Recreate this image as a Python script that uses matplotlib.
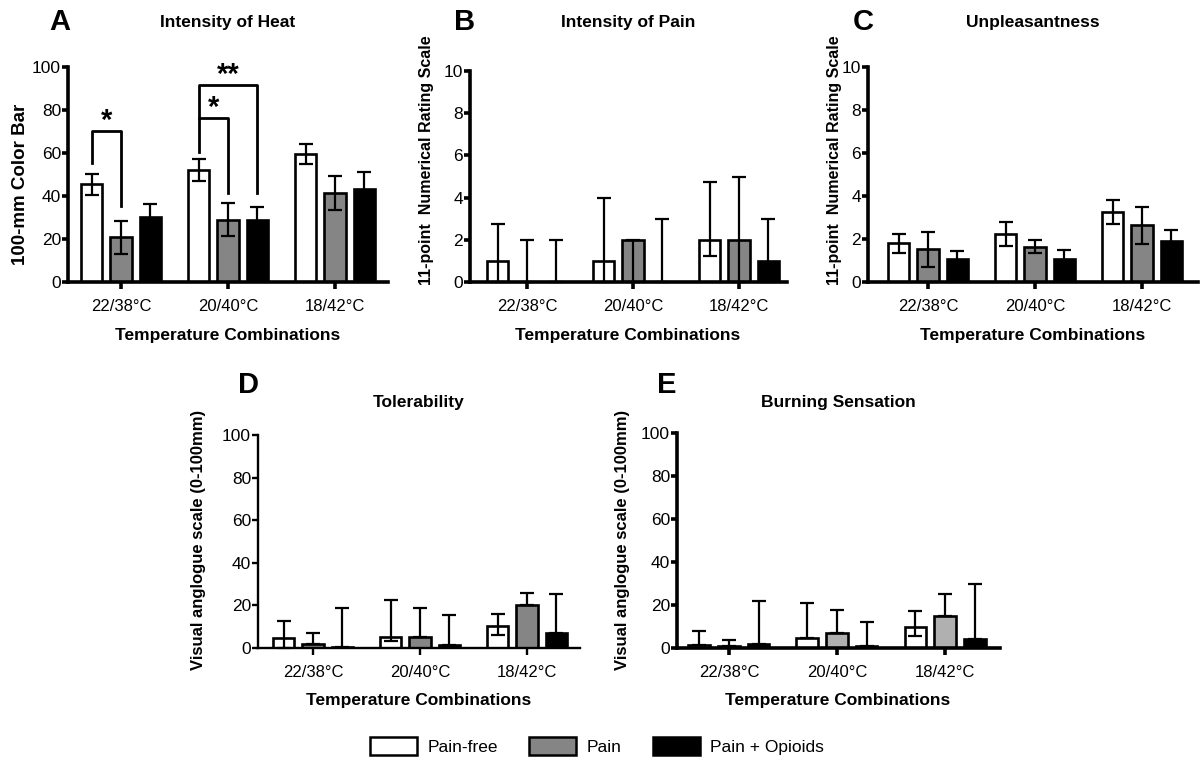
import matplotlib.pyplot as plt
from matplotlib.patches import Patch
import numpy as np

plt.rcParams['font.family'] = ['Liberation Sans', 'DejaVu Sans']

groups = ['22/38°C', '20/40°C', '18/42°C']
conditions = ['Pain-free', 'Pain', 'Pain + Opioids']

# rows: pain-free, pain, pain + opioids ; columns: temperature combinations
# A - intensity of heat (mean +/- sem)
heat_mean = [[45.5, 52.0, 59.7], [20.7, 28.9, 41.5], [30.2, 29.0, 43.4]]
heat_sem = [[4.9, 5.0, 4.6], [7.7, 7.7, 7.8], [6.2, 5.7, 7.8]]

# B - intensity of pain (median, lower, upper)
pain_med = [[1, 1, 2], [0, 2, 2], [0, 0, 1]]
pain_lo = [[0, 0, 1.25], [0, 0, 0], [0, 0, 0]]
pain_hi = [[2.75, 4, 4.75], [2, 2, 5], [2, 3, 3]]

# C - unpleasantness (mean +/- sem)
unpl_mean = [[1.8, 2.25, 3.26], [1.52, 1.64, 2.64], [1.09, 1.09, 1.89]]
unpl_sem = [[0.43, 0.56, 0.54], [0.8, 0.3, 0.87], [0.35, 0.4, 0.53]]

# D - tolerability (median, lower, upper)
tol_med = [[4.7, 5.2, 10.2], [2.0, 5.0, 20.0], [0.5, 1.6, 7.2]]
tol_lo = [[0, 3.1, 6.25], [2.0, 5.0, 20.0], [0.5, 1.6, 7.2]]
tol_hi = [[12.7, 22.7, 16.0], [7.0, 18.75, 26.0], [18.75, 15.3, 25.5]]

# E - burning sensation (median, lower, upper)
burn_med = [[1.4, 4.5, 9.8], [0.9, 7.0, 14.9], [1.9, 0.8, 4.0]]
burn_lo = [[1.4, 4.5, 5.4], [0.9, 7.0, 14.9], [1.9, 0.8, 4.0]]
burn_hi = [[8.0, 20.8, 17.0], [3.9, 17.8, 25.1], [22.0, 11.9, 29.9]]

W, H = 1201, 758
fig = plt.figure(figsize=(W / 100, H / 100), dpi=100)


def fx(px):
    return px / W


def fy(py):
    return 1 - py / H


def panel(box, xlim, vals, lo, hi, fills, ymax, ystep, sw=2.6):
    l, t, r, b = box
    ax = fig.add_axes([fx(l), fy(b), (r - l) / W, (b - t) / H])
    x = np.arange(len(groups))
    for i in range(3):
        xi = x + (i - 1) * 0.275
        v = np.array(vals[i], dtype=float)
        ax.bar(xi, v, 0.2, color=fills[i], edgecolor='black', linewidth=1.9, zorder=2)
        ax.errorbar(xi, v, yerr=[v - np.array(lo[i]), np.array(hi[i]) - v], fmt='none',
                    ecolor='black', elinewidth=1.6, capsize=5, capthick=1.6, zorder=3,
                    clip_on=False)
    ax.set_xlim(xlim)
    ax.set_ylim(0, ymax)
    ax.set_yticks(np.arange(0, ymax + 1e-9, ystep))
    ax.set_xticks(x)
    ax.set_xticklabels(groups)
    for s in ['top', 'right']:
        ax.spines[s].set_visible(False)
    for s in ['left', 'bottom']:
        ax.spines[s].set_linewidth(sw)
    ax.tick_params(axis='y', length=4, width=sw, pad=1, labelsize=12.5)
    ax.tick_params(axis='x', length=5, width=sw, pad=7, labelsize=12)
    return ax


fills = ['white', '#858585', 'black']
fills_e = ['white', '#b0b0b0', 'black']

heat_lo = np.array(heat_mean) - np.array(heat_sem)
heat_hi = np.array(heat_mean) + np.array(heat_sem)
unpl_lo = np.array(unpl_mean) - np.array(unpl_sem)
unpl_hi = np.array(unpl_mean) + np.array(unpl_sem)

axA = panel((68, 67, 388, 282), (-0.495, 2.495), heat_mean, heat_lo, heat_hi, fills, 100, 20)
axB = panel((470, 71, 787, 282), (-0.538, 2.453), pain_med, pain_lo, pain_hi, fills, 10, 2)
axC = panel((868, 67, 1198, 282), (-0.561, 2.523), unpl_mean, unpl_lo, unpl_hi, fills, 10, 2)
axD = panel((258, 435, 580, 648), (-0.514, 2.495), tol_med, tol_lo, tol_hi, fills, 100, 20, sw=1.7)
axE = panel((677, 433, 1000, 648), (-0.481, 2.509), burn_med, burn_lo, burn_hi, fills_e, 100, 20)

# significance brackets in A
off = 0.275
br = dict(color='black', lw=2, clip_on=False, zorder=4)
axA.plot([-off, -off, 0, 0], [55.2, 70.2, 70.2, 35.2], **br)
axA.text(-off / 2, 75, '*', ha='center', va='center', fontsize=21, fontweight='bold')
axA.plot([1 - off, 1 - off, 1, 1], [60.6, 76.4, 76.4, 41.4], **br)
axA.text(1 - off / 2, 81, '*', ha='center', va='center', fontsize=21, fontweight='bold')
axA.plot([1 - off, 1 - off, 1 + off, 1 + off], [76.4, 91.5, 91.5, 41.4], **br)
axA.text(1, 96.5, '**', ha='center', va='center', fontsize=21, fontweight='bold', clip_on=False)

# letters, titles, axis labels
letters = [('A', 60, 22), ('B', 465, 22), ('C', 863, 22), ('D', 248, 385), ('E', 667, 385)]
for s, px, py in letters:
    fig.text(fx(px), fy(py), s, fontsize=21, fontweight='bold', ha='center', va='center')

titles = [('Intensity of Heat', 228, 22), ('Intensity of Pain', 628, 22), ('Unpleasantness', 1033, 22),
          ('Tolerability', 419, 402), ('Burning Sensation', 838, 402)]
for s, px, py in titles:
    fig.text(fx(px), fy(py), s, fontsize=12.5, fontweight='bold', ha='center', va='center')

for px, py in [(228, 335), (628, 335), (1033, 335), (419, 701), (838, 701)]:
    fig.text(fx(px), fy(py), 'Temperature Combinations', fontsize=12.5, fontweight='bold',
             ha='center', va='center')

ylabels = [('100-mm Color Bar', 21, 184, 13.5),
           ('11-point  Numerical Rating Scale', 427, 160, 11.5),
           ('11-point  Numerical Rating Scale', 834, 160, 11.5),
           ('Visual anglogue scale (0-100mm)', 199, 540, 12),
           ('Visual anglogue scale (0-100mm)', 622, 540, 12)]
for s, px, py, fs in ylabels:
    fig.text(fx(px), fy(py), s, fontsize=fs, fontweight='bold', rotation=90,
             ha='center', va='center')

handles = [Patch(facecolor=c, edgecolor='black', linewidth=1.8) for c in ['white', '#858585', 'black']]
fig.legend(handles, conditions, loc='center', bbox_to_anchor=(fx(597), fy(746)), ncol=3,
           frameon=False, fontsize=12.5, handlelength=2.7, handleheight=1.3,
           handletextpad=0.6, columnspacing=1.8)

fig.savefig('out.png', dpi=100)
